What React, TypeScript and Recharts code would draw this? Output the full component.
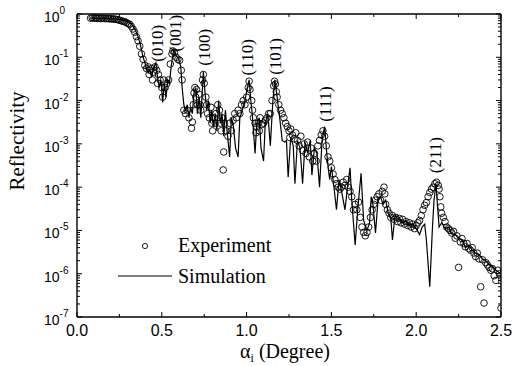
import React from 'react';
import { ComposedChart, Line, Scatter, XAxis, YAxis } from 'recharts';

// reflectivity curves, values
const simulation: [number, number][] = [
  [0.08, 0.8], [0.15, 0.79], [0.22, 0.77], [0.28, 0.72], [0.32, 0.6], [0.345, 0.42], [0.36, 0.3],
  [0.37, 0.22], [0.38, 0.15], [0.39, 0.1], [0.4, 0.075], [0.41, 0.055], [0.42, 0.045], [0.43, 0.05],
  [0.44, 0.035], [0.45, 0.055], [0.465, 0.075], [0.475, 0.035], [0.485, 0.02], [0.495, 0.03],
  [0.505, 0.009], [0.515, 0.025], [0.525, 0.012], [0.535, 0.03], [0.545, 0.025], [0.555, 0.06],
  [0.57, 0.15], [0.585, 0.11], [0.6, 0.09], [0.612, 0.06], [0.62, 0.02], [0.63, 0.008], [0.64, 0.006],
  [0.65, 0.008], [0.66, 0.004], [0.67, 0.007], [0.68, 0.005], [0.69, 0.015], [0.7, 0.02], [0.71, 0.005],
  [0.72, 0.012], [0.73, 0.004], [0.745, 0.046], [0.755, 0.015], [0.765, 0.006], [0.775, 0.01],
  [0.785, 0.003], [0.795, 0.006], [0.805, 0.0025], [0.815, 0.005], [0.825, 0.002], [0.835, 0.01],
  [0.845, 0.003], [0.855, 0.005], [0.865, 0.0015], [0.875, 0.006], [0.885, 0.002], [0.9, 0.0005],
  [0.91, 0.004], [0.92, 0.003], [0.935, 0.0008], [0.95, 0.0005], [0.96, 0.004], [0.975, 0.006],
  [0.99, 0.01], [1.005, 0.02], [1.015, 0.03], [1.025, 0.01], [1.035, 0.004], [1.05, 0.0006],
  [1.06, 0.003], [1.075, 0.004], [1.085, 0.0008], [1.1, 0.0004], [1.11, 0.003], [1.125, 0.005],
  [1.14, 0.0009], [1.155, 0.01], [1.167, 0.03], [1.18, 0.012], [1.195, 0.004], [1.21, 0.0012],
  [1.225, 0.0011], [1.235, 0.0012], [1.245, 0.00017], [1.26, 0.0014], [1.275, 0.0009], [1.285, 0.00012],
  [1.3, 0.0012], [1.315, 0.0008], [1.33, 0.00012], [1.345, 0.0011], [1.36, 0.0006], [1.375, 0.0012],
  [1.385, 0.00019], [1.4, 0.0008], [1.415, 0.0006], [1.43, 0.0001], [1.445, 0.0012], [1.46, 0.0025],
  [1.47, 0.0008], [1.48, 0.0003], [1.49, 0.00015], [1.5, 0.0003], [1.515, 0.0001], [1.53, 0.00003],
  [1.545, 0.00015], [1.56, 0.00008], [1.58, 0.00003], [1.595, 0.0001], [1.61, 0.00028], [1.62, 0.00005],
  [1.64, 0.0000046], [1.655, 0.00003], [1.675, 0.00021], [1.69, 0.000017], [1.71, 0.00001],
  [1.725, 0.000015], [1.735, 0.00006], [1.745, 0.00004], [1.76, 0.0000087], [1.775, 0.00005],
  [1.79, 0.00006], [1.805, 0.00004], [1.82, 0.00005], [1.835, 0.000025], [1.85, 0.00002],
  [1.86, 0.000006], [1.875, 0.000022], [1.9, 0.00002], [1.92, 0.000015], [1.94, 0.000017],
  [1.96, 0.000013], [1.98, 0.000014], [2.0, 0.000011], [2.02, 0.000008], [2.035, 0.000012],
  [2.05, 0.000014], [2.06, 0.000006], [2.08, 0.0000005], [2.095, 0.00001], [2.105, 0.00005],
  [2.117, 0.00012], [2.125, 0.00004], [2.135, 0.000012], [2.15, 0.000015], [2.17, 0.000011],
  [2.19, 0.000012], [2.21, 0.0000085], [2.23, 0.000008], [2.25, 0.0000065], [2.27, 0.000006],
  [2.29, 0.000004], [2.31, 0.0000045], [2.33, 0.0000035], [2.35, 0.000003], [2.37, 0.0000028],
  [2.39, 0.0000022], [2.41, 0.000002], [2.43, 0.0000016], [2.45, 0.0000015], [2.47, 0.0000012],
  [2.5, 0.000001],
];

const experiment: [number, number][] = [
  [0.08, 0.8], [0.09, 0.82], [0.1, 0.8], [0.11, 0.81], [0.12, 0.79], [0.13, 0.8], [0.14, 0.78],
  [0.15, 0.8], [0.16, 0.79], [0.17, 0.78], [0.18, 0.79], [0.19, 0.77], [0.2, 0.78], [0.21, 0.76],
  [0.22, 0.77], [0.23, 0.75], [0.24, 0.74], [0.25, 0.72], [0.26, 0.7], [0.27, 0.68], [0.28, 0.66],
  [0.29, 0.64], [0.3, 0.6], [0.31, 0.58], [0.32, 0.52], [0.33, 0.45], [0.34, 0.38], [0.35, 0.3],
  [0.36, 0.24], [0.37, 0.18], [0.38, 0.12], [0.39, 0.09], [0.4, 0.065], [0.41, 0.055], [0.42, 0.06],
  [0.425, 0.04], [0.43, 0.05], [0.44, 0.055], [0.445, 0.03], [0.45, 0.045], [0.46, 0.06], [0.47, 0.05],
  [0.475, 0.025], [0.48, 0.04], [0.49, 0.03], [0.5, 0.02], [0.505, 0.012], [0.51, 0.03], [0.52, 0.02],
  [0.53, 0.025], [0.54, 0.03], [0.55, 0.07], [0.56, 0.12], [0.565, 0.14], [0.575, 0.13], [0.585, 0.1],
  [0.595, 0.09], [0.605, 0.085], [0.615, 0.05], [0.62, 0.03], [0.63, 0.006], [0.64, 0.005],
  [0.65, 0.006], [0.66, 0.004], [0.675, 0.0023], [0.68, 0.0032], [0.685, 0.008], [0.69, 0.015],
  [0.695, 0.02], [0.7, 0.012], [0.705, 0.018], [0.71, 0.008], [0.72, 0.014], [0.725, 0.008],
  [0.73, 0.006], [0.74, 0.03], [0.745, 0.04], [0.75, 0.025], [0.76, 0.012], [0.765, 0.008],
  [0.77, 0.005], [0.78, 0.004], [0.79, 0.007], [0.795, 0.003], [0.8, 0.002], [0.81, 0.004],
  [0.815, 0.003], [0.82, 0.005], [0.83, 0.008], [0.84, 0.006], [0.845, 0.003], [0.85, 0.002],
  [0.855, 0.004], [0.865, 0.00065], [0.862, 0.00025], [0.87, 0.003], [0.88, 0.002], [0.89, 0.0015],
  [0.9, 0.003], [0.91, 0.002], [0.92, 0.0035], [0.93, 0.005], [0.94, 0.004], [0.95, 0.006],
  [0.96, 0.005], [0.97, 0.008], [0.98, 0.01], [0.99, 0.008], [1.0, 0.012], [1.01, 0.02],
  [1.015, 0.028], [1.02, 0.018], [1.03, 0.01], [1.035, 0.006], [1.04, 0.004], [1.05, 0.003],
  [1.055, 0.0018], [1.06, 0.0025], [1.07, 0.003], [1.075, 0.002], [1.08, 0.004], [1.09, 0.0028],
  [1.1, 0.003], [1.11, 0.0035], [1.12, 0.004], [1.13, 0.005], [1.14, 0.005], [1.15, 0.01],
  [1.16, 0.022], [1.165, 0.028], [1.17, 0.024], [1.175, 0.016], [1.18, 0.012], [1.19, 0.008],
  [1.2, 0.006], [1.21, 0.005], [1.22, 0.004], [1.23, 0.003], [1.24, 0.0025], [1.25, 0.002],
  [1.255, 0.0014], [1.26, 0.0022], [1.27, 0.0016], [1.28, 0.0013], [1.29, 0.0018], [1.3, 0.0012],
  [1.31, 0.0009], [1.32, 0.0015], [1.33, 0.0007], [1.34, 0.001], [1.35, 0.0006], [1.36, 0.0011],
  [1.37, 0.0005], [1.38, 0.0008], [1.39, 0.0004], [1.4, 0.0006], [1.41, 0.0004], [1.42, 0.0009],
  [1.43, 0.0012], [1.44, 0.0016], [1.45, 0.002], [1.46, 0.0015], [1.47, 0.0009], [1.48, 0.0005],
  [1.49, 0.0004], [1.5, 0.00028], [1.51, 0.0002], [1.52, 0.00015], [1.53, 0.00012], [1.54, 0.0001],
  [1.55, 0.00009], [1.56, 0.0001], [1.57, 0.00013], [1.58, 0.00011], [1.59, 0.00015], [1.6, 0.0001],
  [1.61, 0.00008], [1.62, 0.00006], [1.63, 0.00003], [1.64, 0.00004], [1.65, 0.00003],
  [1.66, 0.000045], [1.67, 0.00002], [1.68, 0.000012], [1.69, 0.000009], [1.7, 0.0000075],
  [1.71, 0.000009], [1.72, 0.000012], [1.73, 0.00002], [1.74, 0.00003], [1.75, 0.00004],
  [1.76, 0.00005], [1.77, 0.00006], [1.78, 0.00007], [1.79, 0.00005], [1.8, 0.00008], [1.81, 0.0001],
  [1.815, 0.00007], [1.82, 0.00004], [1.83, 0.00003], [1.84, 0.000025], [1.85, 0.00002],
  [1.86, 0.000022], [1.87, 0.000018], [1.88, 0.00002], [1.89, 0.000016], [1.9, 0.000019],
  [1.91, 0.000015], [1.92, 0.000018], [1.93, 0.000014], [1.94, 0.000016], [1.95, 0.000013],
  [1.96, 0.000015], [1.97, 0.000012], [1.98, 0.000014], [1.99, 0.000011], [2.0, 0.000013],
  [2.01, 0.000015], [2.02, 0.000017], [2.03, 0.000022], [2.04, 0.00003], [2.05, 0.000038],
  [2.06, 0.000044], [2.07, 0.00006], [2.08, 0.000075], [2.09, 0.00009], [2.1, 0.0001], [2.11, 0.00012],
  [2.12, 0.00013], [2.13, 0.00011], [2.135, 0.00009], [2.14, 0.00006], [2.145, 0.000035],
  [2.15, 0.000025], [2.16, 0.00002], [2.17, 0.000016], [2.18, 0.000012], [2.19, 0.000011],
  [2.2, 0.00001], [2.21, 0.0000087], [2.22, 0.0000095], [2.23, 0.0000066], [2.24, 0.0000075],
  [2.25, 0.0000014], [2.26, 0.0000054], [2.27, 0.0000065], [2.28, 0.000005], [2.29, 0.0000042],
  [2.3, 0.000005], [2.31, 0.0000038], [2.32, 0.0000035], [2.33, 0.000004], [2.34, 0.000003],
  [2.35, 0.0000025], [2.36, 0.000003], [2.37, 0.0000022], [2.38, 0.0000005], [2.39, 0.0000021],
  [2.4, 0.00000021], [2.41, 0.0000018], [2.42, 0.0000016], [2.43, 0.0000014], [2.44, 0.0000012],
  [2.45, 0.0000013], [2.46, 0.0000009], [2.47, 0.0000007], [2.48, 0.0000012], [2.49, 0.000001],
  [2.5, 0.00000016],
];

// Miller index labels placed at (angle, reflectivity)
const peakLabels: [string, number, number][] = [
  ['(010)', 0.475, 0.21],
  ['(001)', 0.578, 0.36],
  ['(100)', 0.749, 0.17],
  ['(110)', 1.008, 0.1],
  ['(101)', 1.173, 0.105],
  ['(111)', 1.468, 0.0083],
  ['(211)', 2.111, 0.00055],
];

const xTicks = [0, 0.25, 0.5, 0.75, 1, 1.25, 1.5, 1.75, 2, 2.25, 2.5];
const decades = [-7, -6, -5, -4, -3, -2, -1, 0];
const yTicks: number[] = [];
decades.forEach((d) => {
  yTicks.push(Math.pow(10, d));
  if (d < 0) for (let m = 2; m <= 9; m++) yTicks.push(m * Math.pow(10, d));
});

const simData = simulation.map(([x, y]) => ({ x, y }));
const expData = experiment.map(([x, y]) => ({ x, y }));
const labelData = peakLabels.map(([text, x, y]) => ({ text, x, y }));

const SANS = 'Arial, "Liberation Sans", sans-serif';
const SERIF = '"Times New Roman", "Liberation Serif", serif';

const isMajorX = (v: number) => Math.abs(v * 2 - Math.round(v * 2)) < 1e-6;
const isMajorY = (v: number) => Math.abs(Math.log10(v) - Math.round(Math.log10(v))) < 1e-6;

const BottomTick = ({ x, y, payload }: any) => {
  const major = isMajorX(payload.value);
  return (
    <g>
      <line x1={x} y1={y} x2={x} y2={y - (major ? 5 : 3)} stroke="#000" strokeWidth={1} />
      {major && (
        <text x={x} y={y + 19} textAnchor="middle" fontFamily={SANS} fontSize={16} fill="#000">
          {payload.value.toFixed(1)}
        </text>
      )}
    </g>
  );
};

const TopTick = ({ x, y, payload }: any) => {
  const major = isMajorX(payload.value);
  return <line x1={x} y1={y} x2={x} y2={y + (major ? 5 : 3)} stroke="#000" strokeWidth={1} />;
};

const LeftTick = ({ x, y, payload }: any) => {
  const major = isMajorY(payload.value);
  const exp = Math.round(Math.log10(payload.value));
  return (
    <g>
      <line x1={x} y1={y} x2={x + (major ? 5 : 3)} y2={y} stroke="#000" strokeWidth={1} />
      {major && (
        <text x={x - 33} y={y + 8} fontFamily={SANS} fontSize={14} fill="#000">
          10
          <tspan fontSize={10} dy={-8}>{exp}</tspan>
        </text>
      )}
    </g>
  );
};

const RightTick = ({ x, y, payload }: any) => {
  const major = isMajorY(payload.value);
  return <line x1={x} y1={y} x2={x - (major ? 5 : 3)} y2={y} stroke="#000" strokeWidth={1} />;
};

const OpenCircle = (props: any) => (
  <circle cx={props.cx} cy={props.cy} r={3.3} fill="none" stroke="#000" strokeWidth={0.9} />
);

const PeakText = (props: any) => {
  const { cx, cy, payload } = props;
  return (
    <text
      x={cx}
      y={cy}
      transform={`rotate(-90, ${cx}, ${cy})`}
      textAnchor="middle"
      dominantBaseline="central"
      fontFamily={SERIF}
      fontSize={17}
      fill="#000"
    >
      {payload.text}
    </text>
  );
};

const axisStroke = { stroke: '#000', strokeWidth: 1.4 };

export default function App() {
  return (
    <div style={{ position: 'absolute', left: 0, top: 0, width: 514, height: 366, background: '#fff' }}>
      <ComposedChart width={514} height={366} margin={{ top: 0, right: 0, bottom: 0, left: 0 }}>
        <XAxis
          type="number"
          dataKey="x"
          domain={[0, 2.5]}
          ticks={xTicks}
          interval={0}
          allowDataOverflow
          height={49}
          tickSize={0}
          tickMargin={0}
          tickLine={false}
          axisLine={axisStroke}
          tick={<BottomTick />}
        />
        <XAxis
          xAxisId="top"
          orientation="top"
          type="number"
          dataKey="x"
          domain={[0, 2.5]}
          ticks={xTicks}
          interval={0}
          allowDataOverflow
          height={14}
          tickSize={0}
          tickMargin={0}
          tickLine={false}
          axisLine={axisStroke}
          tick={<TopTick />}
        />
        <YAxis
          type="number"
          scale="log"
          domain={[1e-7, 1]}
          ticks={yTicks}
          interval={0}
          allowDataOverflow
          width={77}
          tickSize={0}
          tickMargin={0}
          tickLine={false}
          axisLine={axisStroke}
          tick={<LeftTick />}
        />
        <YAxis
          yAxisId="right"
          orientation="right"
          type="number"
          scale="log"
          domain={[1e-7, 1]}
          ticks={yTicks}
          interval={0}
          allowDataOverflow
          width={13}
          tickSize={0}
          tickMargin={0}
          tickLine={false}
          axisLine={axisStroke}
          tick={<RightTick />}
        />
        <Line
          data={simData}
          dataKey="y"
          type="linear"
          stroke="#000"
          strokeWidth={1.2}
          dot={false}
          isAnimationActive={false}
        />
        <Scatter data={expData} dataKey="y" shape={<OpenCircle />} isAnimationActive={false} />
        <Scatter data={labelData} dataKey="y" shape={<PeakText />} isAnimationActive={false} />
      </ComposedChart>
      <svg
        width={514}
        height={366}
        style={{ position: 'absolute', left: 0, top: 0, pointerEvents: 'none' }}
      >
        <text
          x={17}
          y={141}
          transform="rotate(-90, 17, 141)"
          textAnchor="middle"
          dominantBaseline="central"
          fontFamily={SERIF}
          fontSize={21}
          fill="#000"
        >
          Reflectivity
        </text>
        <text x={285} y={358} textAnchor="middle" fontFamily={SERIF} fontSize={20} fill="#000">
          α<tspan fontSize={12} dy={4}>i</tspan>
          <tspan dy={-4}> (Degree)</tspan>
        </text>
        <circle cx={145} cy={246} r={2.6} fill="none" stroke="#000" strokeWidth={0.9} />
        <text x={178} y={252} fontFamily={SERIF} fontSize={20} fill="#000">Experiment</text>
        <line x1={118} y1={276} x2={172} y2={276} stroke="#000" strokeWidth={1.2} />
        <text x={178} y={283} fontFamily={SERIF} fontSize={20} fill="#000">Simulation</text>
      </svg>
    </div>
  );
}
